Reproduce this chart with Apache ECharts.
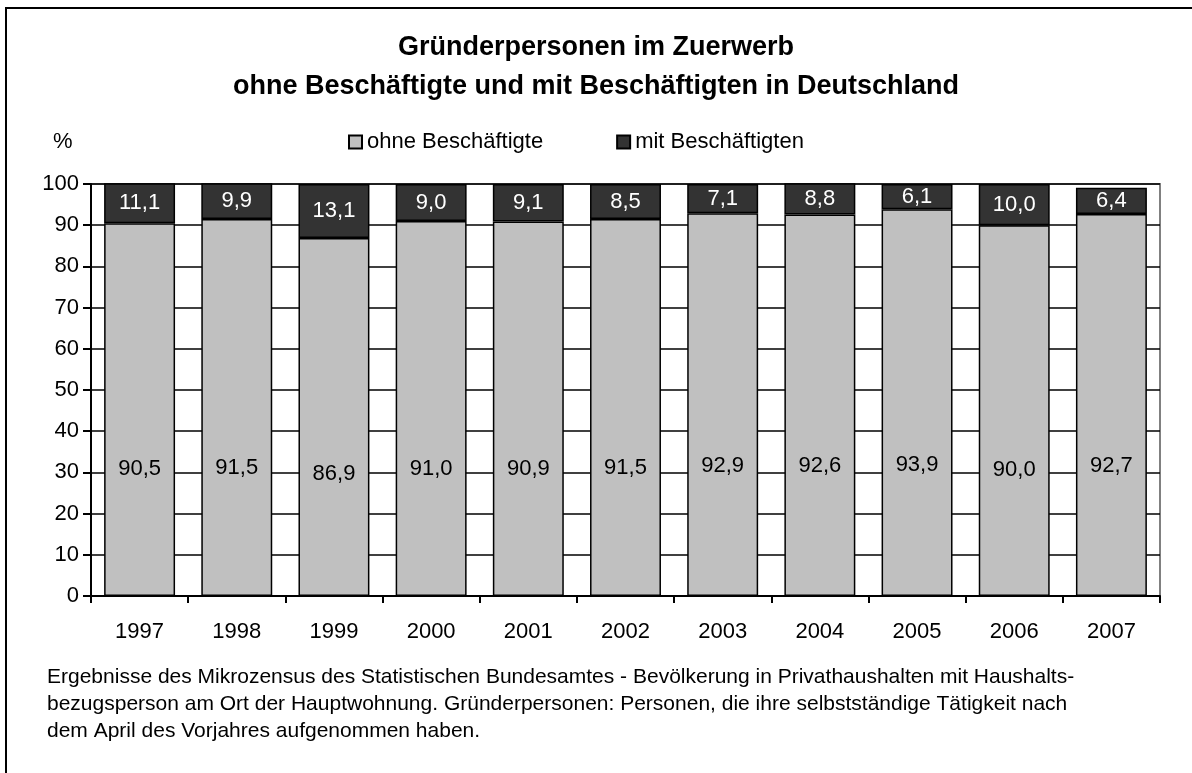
<!DOCTYPE html>
<html>
<head>
<meta charset="utf-8">
<script src="https://cdn.jsdelivr.net/npm/echarts@6/dist/echarts.min.js"></script>
<style>
  html, body { margin: 0; padding: 0; background: #fff; }
  #main { width: 1192px; height: 773px; }
</style>
</head>
<body>
<div id="main"></div>
<script>
// Daten
var jahre = ['1997', '1998', '1999', '2000', '2001', '2002', '2003', '2004', '2005', '2006', '2007'];
var ohneBeschaeftigte = [90.5, 91.5, 86.9, 91.0, 90.9, 91.5, 92.9, 92.6, 93.9, 90.0, 92.7];
var mitBeschaeftigten = [11.1, 9.9, 13.1, 9.0, 9.1, 8.5, 7.1, 8.8, 6.1, 10.0, 6.4];
var yTicks = [0, 10, 20, 30, 40, 50, 60, 70, 80, 90, 100];

var font = 'Liberation Sans, Arial, sans-serif';

function komma(p) {
    return p.value.toFixed(1).replace('.', ',');
}

var myChart = echarts.init(document.getElementById('main'));

var option = {
    backgroundColor: '#fff',
    animation: false,
    title: {
        text: 'Gründerpersonen im Zuerwerb\nohne Beschäftigte und mit Beschäftigten in Deutschland',
        left: 'center',
        top: 23,
        textStyle: {
            fontFamily: font,
            fontWeight: 'bold',
            fontSize: 27,
            lineHeight: 39,
            color: '#000'
        }
    },
    legend: {
        top: 126,
        left: 343,
        icon: 'rect',
        itemWidth: 13,
        itemHeight: 13,
        itemGap: 73,
        textStyle: { fontFamily: font, fontSize: 22, color: '#000' },
        data: ['ohne Beschäftigte', 'mit Beschäftigten']
    },
    grid: {
        left: 91,
        right: 32,
        top: 184,
        bottom: 177,
        show: true,
        borderColor: '#808080',
        borderWidth: 2
    },
    xAxis: {
        type: 'category',
        data: jahre,
        axisLine: { lineStyle: { color: '#000', width: 2 } },
        axisTick: { show: true, length: 7, lineStyle: { color: '#000', width: 2 } },
        axisLabel: { fontFamily: font, fontSize: 22, color: '#000', margin: 25 }
    },
    yAxis: {
        type: 'value',
        min: 0,
        max: 100,
        interval: 10,
        axisLine: { show: true, lineStyle: { color: '#000', width: 2 } },
        axisTick: { show: true, length: 8, lineStyle: { color: '#000', width: 2 } },
        axisLabel: {
            fontFamily: font, fontSize: 22, color: '#000', margin: 12,
            formatter: function (v) { return yTicks.indexOf(v) >= 0 ? String(v) : ''; }
        },
        splitLine: { show: true, lineStyle: { color: '#000', width: 1.5 } }
    },
    series: [
        {
            name: 'ohne Beschäftigte',
            type: 'bar',
            stack: 'gesamt',
            barCategoryGap: '27%',
            data: ohneBeschaeftigte,
            itemStyle: { color: '#c0c0c0', borderColor: '#000', borderWidth: 1.5 },
            label: {
                show: true,
                position: ['50%', '66%'],
                align: 'center',
                verticalAlign: 'middle',
                fontFamily: font,
                fontSize: 22,
                color: '#000',
                formatter: komma
            }
        },
        {
            name: 'mit Beschäftigten',
            type: 'bar',
            stack: 'gesamt',
            data: mitBeschaeftigten,
            itemStyle: { color: '#333333', borderColor: '#000', borderWidth: 1.5 },
            label: {
                show: true,
                position: 'inside',
                fontFamily: font,
                fontSize: 22,
                color: '#fff',
                formatter: komma
            }
        }
    ],
    graphic: [
        {
            type: 'rect',
            shape: { x: 6, y: 8, width: 1200, height: 800 },
            style: { fill: 'none', stroke: '#000', lineWidth: 2 },
            silent: true
        },
        {
            type: 'text',
            left: 53,
            top: 131,
            style: { text: '%', fontFamily: font, fontSize: 22, fill: '#000' }
        },
        {
            type: 'text',
            left: 47,
            top: 664,
            style: {
                text: 'Ergebnisse des Mikrozensus des Statistischen Bundesamtes - Bevölkerung in Privathaushalten mit Haushalts-\nbezugsperson am Ort der Hauptwohnung. Gründerpersonen: Personen, die ihre selbstständige Tätigkeit nach\ndem April des Vorjahres aufgenommen haben.',
                fontFamily: font,
                fontSize: 21,
                lineHeight: 27,
                fill: '#000'
            }
        }
    ]
};

myChart.setOption(option);
</script>
</body>
</html>
